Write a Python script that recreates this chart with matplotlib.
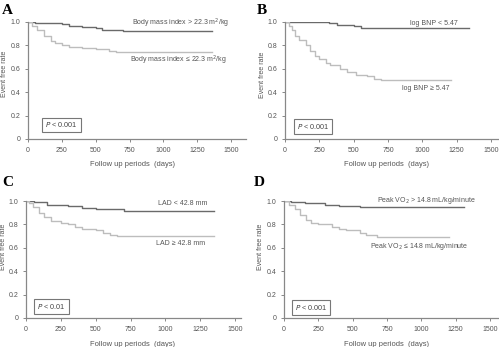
import matplotlib
matplotlib.use("Agg")
import matplotlib.pyplot as plt

plt.rcParams['font.family'] = ['Liberation Sans', 'DejaVu Sans']

# Panel A: Body mass index
a_hi_t = [0, 50, 100, 250, 300, 400, 500, 550, 700, 1360]
a_hi_s = [1.0, 0.995, 0.99, 0.98, 0.97, 0.955, 0.945, 0.935, 0.92, 0.92]
a_lo_t = [0, 30, 70, 120, 170, 200, 250, 300, 400, 500, 600, 650, 1360]
a_lo_s = [1.0, 0.97, 0.93, 0.88, 0.84, 0.82, 0.80, 0.79, 0.78, 0.765, 0.755, 0.745, 0.745]

# Panel B: log BNP
b_hi_t = [0, 300, 320, 380, 500, 550, 1340]
b_hi_s = [1.0, 1.0, 0.99, 0.975, 0.965, 0.95, 0.95]
b_lo_t = [0, 30, 50, 70, 100, 150, 180, 220, 250, 300, 330, 400, 450, 520, 600, 650, 700, 1210]
b_lo_s = [1.0, 0.97, 0.93, 0.88, 0.85, 0.80, 0.75, 0.71, 0.68, 0.65, 0.63, 0.60, 0.57, 0.55, 0.535, 0.515, 0.50, 0.50]

# Panel C: LAD
c_hi_t = [0, 60, 150, 300, 400, 500, 700, 1350]
c_hi_s = [1.0, 0.99, 0.97, 0.955, 0.94, 0.93, 0.915, 0.915]
c_lo_t = [0, 20, 50, 90, 130, 180, 250, 300, 350, 400, 500, 550, 600, 650, 1350]
c_lo_s = [1.0, 0.98, 0.95, 0.90, 0.86, 0.83, 0.81, 0.80, 0.78, 0.76, 0.75, 0.73, 0.71, 0.70, 0.70]

# Panel D: Peak VO2
d_hi_t = [0, 50, 150, 300, 400, 550, 1310]
d_hi_s = [1.0, 0.99, 0.98, 0.97, 0.96, 0.95, 0.95]
d_lo_t = [0, 40, 80, 120, 160, 200, 250, 350, 400, 450, 550, 600, 680, 1200]
d_lo_s = [1.0, 0.97, 0.93, 0.88, 0.84, 0.81, 0.80, 0.78, 0.76, 0.75, 0.73, 0.71, 0.69, 0.69]

x_ticks = [0, 250, 500, 750, 1000, 1250, 1500]
y_ticks = [0, 0.2, 0.4, 0.6, 0.8, 1.0]
y_ticklabels = ['0', '0.2', '0.4', '0.6', '0.8', '1.0']

W, H = 499, 347
fig = plt.figure(figsize=(W / 100, H / 100), dpi=100)

panels = [
    dict(letter='A', hi=(a_hi_t, a_hi_s), lo=(a_lo_t, a_lo_s),
         hi_lab='Body mass index > 22.3 m$^2$/kg', lo_lab='Body mass index ≤ 22.3 m$^2$/kg',
         hi_pos=(1123, 0.985), lo_pos=(1112, 0.675), p='P < 0.001', p_pos=(248, 0.12),
         px=(28, 231, 22, 139), xmax=1610, lpos=(2, 10),
         xl=(132, 165), yl=(5, 74)),
    dict(letter='B', hi=(b_hi_t, b_hi_s), lo=(b_lo_t, b_lo_s),
         hi_lab='log BNP < 5.47', lo_lab='log BNP ≥ 5.47',
         hi_pos=(1085, 0.99), lo_pos=(1023, 0.43), p='P < 0.001', p_pos=(204, 0.11),
         px=(285, 491, 22, 139), xmax=1550, lpos=(257, 10),
         xl=(387, 165), yl=(262, 75)),
    dict(letter='C', hi=(c_hi_t, c_hi_s), lo=(c_lo_t, c_lo_s),
         hi_lab='LAD < 42.8 mm', lo_lab='LAD ≥ 42.8 mm',
         hi_pos=(1123, 0.98), lo_pos=(1109, 0.635), p='P < 0.01', p_pos=(183, 0.10),
         px=(26, 235, 201, 318), xmax=1540, lpos=(2, 182),
         xl=(133, 344), yl=(4, 247)),
    dict(letter='D', hi=(d_hi_t, d_hi_s), lo=(d_lo_t, d_lo_s),
         hi_lab='Peak VO$_2$ > 14.8 mL/kg/minute', lo_lab='Peak VO$_2$ ≤ 14.8 mL/kg/minute',
         hi_pos=(1034, 1.0), lo_pos=(987, 0.61), p='P < 0.001', p_pos=(197, 0.09),
         px=(284, 490, 201, 318), xmax=1560, lpos=(254, 182),
         xl=(387, 344), yl=(261, 247)),
]

for pnl in panels:
    x0, x15, yt, yb = pnl['px']
    scale = (x15 - x0) / 1500.0
    xr = x0 + pnl['xmax'] * scale
    ax = fig.add_axes([x0 / W, 1 - yb / H, (xr - x0) / W, (yb - yt) / H])
    ax.step(pnl['hi'][0], pnl['hi'][1], where='post', color='#6a6a6a', lw=1.0)
    ax.step(pnl['lo'][0], pnl['lo'][1], where='post', color='#bdbdbd', lw=1.0)
    ax.set_xlim(0, pnl['xmax'])
    ax.set_ylim(0, 1.0)
    ax.set_xticks(x_ticks)
    ax.set_yticks(y_ticks)
    ax.set_yticklabels(y_ticklabels)
    for s in ['top', 'right']:
        ax.spines[s].set_visible(False)
    for s in ['left', 'bottom']:
        ax.spines[s].set_color('#888888')
        ax.spines[s].set_linewidth(0.9)
    ax.tick_params(axis='both', labelsize=5.0, colors='#888888', labelcolor='#555555',
                   length=2.5, width=0.7, pad=3)
    ax.text(pnl['hi_pos'][0], pnl['hi_pos'][1], pnl['hi_lab'], fontsize=5.0, color='#555555',
            ha='center', va='center')
    ax.text(pnl['lo_pos'][0], pnl['lo_pos'][1], pnl['lo_lab'], fontsize=5.0, color='#555555',
            ha='center', va='center')
    ptxt = pnl['p'].replace('P', '$\\it{P}$', 1)
    ax.text(pnl['p_pos'][0], pnl['p_pos'][1], ptxt, fontsize=5.2, color='#444444',
            ha='center', va='center',
            bbox=dict(boxstyle='square,pad=0.4', fc='white', ec='#777777', lw=0.8))
    fig.text(pnl['xl'][0] / W, 1 - pnl['xl'][1] / H, 'Follow up periods  (days)',
             fontsize=5.4, color='#555555', ha='center', va='center')
    fig.text(pnl['yl'][0] / W, 1 - pnl['yl'][1] / H, 'Event free rate',
             fontsize=5.0, color='#555555', ha='center', va='center', rotation=90)
    fig.text(pnl['lpos'][0] / W, 1 - pnl['lpos'][1] / H, pnl['letter'],
             fontsize=11, fontweight='bold', family='Liberation Serif', ha='left', va='center')

fig.savefig('out.png', dpi=100)
